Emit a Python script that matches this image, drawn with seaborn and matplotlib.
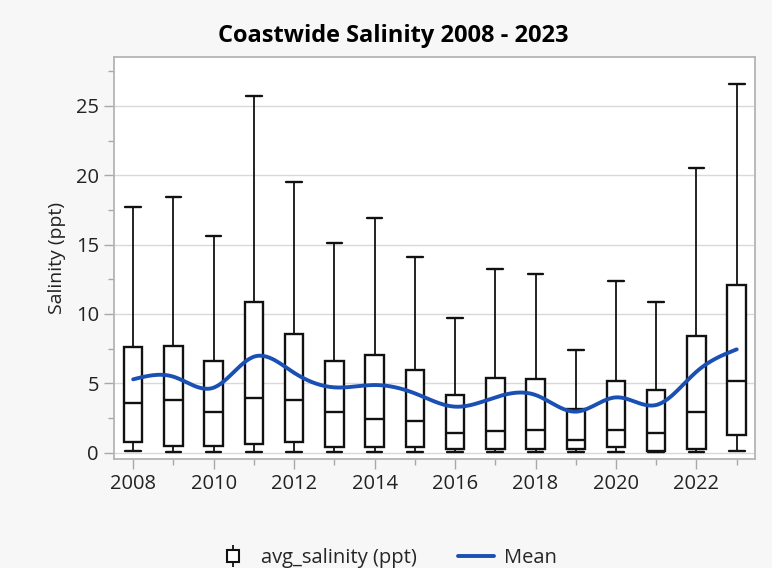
import numpy as np
import pandas as pd
import matplotlib
matplotlib.use("Agg")
import matplotlib.pyplot as plt
from matplotlib.lines import Line2D
from matplotlib.legend_handler import HandlerTuple
from matplotlib.ticker import MultipleLocator
import seaborn as sns

# Yearly salinity summaries (ppt): whiskers span min..max
years = list(range(2008, 2024))
sal_min = [0.15, 0.03, 0.03, 0.03, 0.03, 0.03, 0.03, 0.03, 0.03, 0.03, 0.03, 0.03, 0.03, 0.02, 0.03, 0.15]
sal_q1 = [0.77, 0.51, 0.51, 0.63, 0.77, 0.39, 0.39, 0.39, 0.27, 0.27, 0.27, 0.27, 0.39, 0.12, 0.27, 1.28]
sal_median = [3.56, 3.80, 2.93, 3.92, 3.80, 2.93, 2.40, 2.28, 1.39, 1.54, 1.66, 0.91, 1.66, 1.39, 2.93, 5.17]
sal_q3 = [7.59, 7.71, 6.58, 10.83, 8.58, 6.58, 7.06, 5.93, 4.16, 5.40, 5.29, 3.15, 5.17, 4.54, 8.43, 12.08]
sal_max = [17.68, 18.42, 15.64, 25.75, 19.55, 15.11, 16.89, 14.10, 9.73, 13.21, 12.85, 7.42, 12.37, 10.83, 20.56, 26.59]
sal_mean = [5.29, 5.48, 4.69, 6.92, 5.76, 4.71, 4.88, 4.28, 3.32, 3.99, 4.16, 2.96, 3.99, 3.44, 5.84, 7.45]

# Five-number summary per year -> long table (percentiles reproduce the box exactly)
rows = []
for i, yr in enumerate(years):
    for v in (sal_min[i], sal_q1[i], sal_median[i], sal_q3[i], sal_max[i]):
        rows.append({"year": yr, "avg_salinity": v})
df = pd.DataFrame(rows)


def natural_spline(x, y, xs):
    x = np.asarray(x, float)
    y = np.asarray(y, float)
    n = len(x)
    h = np.diff(x)
    A = np.zeros((n, n))
    b = np.zeros(n)
    A[0, 0] = A[-1, -1] = 1.0
    for i in range(1, n - 1):
        A[i, i - 1] = h[i - 1]
        A[i, i] = 2 * (h[i - 1] + h[i])
        A[i, i + 1] = h[i]
        b[i] = 6 * ((y[i + 1] - y[i]) / h[i] - (y[i] - y[i - 1]) / h[i - 1])
    m = np.linalg.solve(A, b)
    idx = np.clip(np.searchsorted(x, xs) - 1, 0, n - 2)
    x0, x1 = x[idx], x[idx + 1]
    hh = x1 - x0
    t0, t1 = x1 - xs, xs - x0
    return (m[idx] * t0**3 / (6 * hh) + m[idx + 1] * t1**3 / (6 * hh)
            + (y[idx] / hh - m[idx] * hh / 6) * t0
            + (y[idx + 1] / hh - m[idx + 1] * hh / 6) * t1)


sns.set_theme(style="white")
plt.rcParams["font.family"] = ["Open Sans", "DejaVu Sans"]

fig = plt.figure(figsize=(7.72, 5.68), dpi=100, facecolor="#f7f7f7")
ax = fig.add_axes([0.148, 0.192, 0.830, 0.707])
ax.set_facecolor("white")

sns.boxplot(data=df, x="year", y="avg_salinity", native_scale=True, whis=(0, 100),
            width=0.46, color="white", linecolor="#111111", linewidth=1.7,
            capwidths=0.39, showfliers=False, ax=ax,
            whiskerprops={"linewidth": 1.3}, capprops={"linewidth": 1.7},
            boxprops={"zorder": 2})

xs = np.linspace(years[0], years[-1], 400)
mean_line = pd.DataFrame({"year": xs, "mean": natural_spline(years, sal_mean, xs)})
sns.lineplot(data=mean_line, x="year", y="mean", color="#1a50b4", linewidth=2.8,
             ax=ax, zorder=5)

ax.set_xlim(2008 - 0.47, 2023 + 0.455)
ax.set_ylim(-0.45, 28.5)
ax.xaxis.set_minor_locator(MultipleLocator(1))
ax.yaxis.set_major_locator(MultipleLocator(5))
ax.yaxis.set_minor_locator(MultipleLocator(2.5))
ax.set_xticks([2008, 2010, 2012, 2014, 2016, 2018, 2020, 2022])
ax.set_xticklabels(["2008", "2010", "2012", "2014", "2016", "2018", "2020", "2022"])
ax.grid(axis="y", which="major", color="#d9d9d9", linewidth=1.0, zorder=0)
ax.set_axisbelow(True)

ax.tick_params(axis="both", which="major", length=7, width=1.0, color="#a8a8a8",
               labelsize=14.5, labelcolor="#222222", direction="out", pad=4)
ax.tick_params(axis="both", which="minor", length=4, width=1.0, color="#a8a8a8",
               direction="out")
ax.tick_params(axis="x", bottom=True, which="both")
ax.tick_params(axis="y", left=True, which="both")
for s in ax.spines.values():
    s.set_color("#b4b4b4")
    s.set_linewidth(1.3)

ax.set_xlabel("")
ax.set_ylabel("Salinity (ppt)", fontsize=14, color="#222222", labelpad=7)

fig.text(0.51, 0.937, "Coastwide Salinity 2008 - 2023", ha="center", va="center",
         fontsize=17, fontweight="bold", color="black")

box_whisker = Line2D([], [], color="#111111", marker="|", markersize=16,
                     markeredgewidth=1.3, linestyle="none")
box_square = Line2D([], [], color="#111111", marker="s", markersize=9,
                    markerfacecolor="white", markeredgewidth=1.5, linestyle="none")
mean_handle = Line2D([], [], color="#1a50b4", linewidth=2.8)
fig.legend([(box_whisker, box_square), mean_handle], ["avg_salinity (ppt)", "Mean"],
           handler_map={tuple: HandlerTuple(ndivide=1)},
           loc="center", bbox_to_anchor=(0.5, 0.018), ncol=2, frameon=False,
           fontsize=14.5, handlelength=1.8, columnspacing=2.0, handletextpad=0.5)

fig.savefig("out.png", dpi=100, facecolor=fig.get_facecolor())
